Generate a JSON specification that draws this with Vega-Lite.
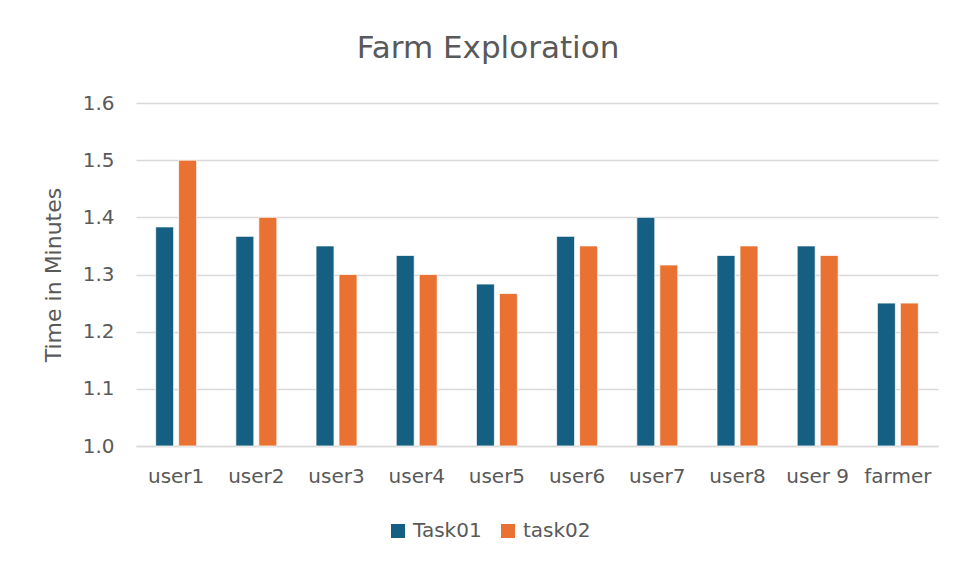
{
  "$schema": "https://vega.github.io/schema/vega-lite/v6.json",
  "autosize": {"type": "none"},
  "padding": {"left": 136, "top": 103, "right": 17, "bottom": 116},
  "width": 802,
  "height": 343,
  "background": "#ffffff",
  "title": {
    "text": "Farm Exploration",
    "font": "DejaVu Sans",
    "fontSize": 31,
    "fontWeight": "normal",
    "color": "#595959",
    "anchor": "middle",
    "baseline": "alphabetic",
    "dx": -49,
    "offset": 4
  },
  "data": {
    "values": [
      {"user": "user1", "task": "Task01", "minutes": 1.3833},
      {"user": "user1", "task": "task02", "minutes": 1.5},
      {"user": "user2", "task": "Task01", "minutes": 1.3667},
      {"user": "user2", "task": "task02", "minutes": 1.4},
      {"user": "user3", "task": "Task01", "minutes": 1.35},
      {"user": "user3", "task": "task02", "minutes": 1.3},
      {"user": "user4", "task": "Task01", "minutes": 1.3333},
      {"user": "user4", "task": "task02", "minutes": 1.3},
      {"user": "user5", "task": "Task01", "minutes": 1.2833},
      {"user": "user5", "task": "task02", "minutes": 1.2667},
      {"user": "user6", "task": "Task01", "minutes": 1.3667},
      {"user": "user6", "task": "task02", "minutes": 1.35},
      {"user": "user7", "task": "Task01", "minutes": 1.4},
      {"user": "user7", "task": "task02", "minutes": 1.3167},
      {"user": "user8", "task": "Task01", "minutes": 1.3333},
      {"user": "user8", "task": "task02", "minutes": 1.35},
      {"user": "user 9", "task": "Task01", "minutes": 1.35},
      {"user": "user 9", "task": "task02", "minutes": 1.3333},
      {"user": "farmer", "task": "Task01", "minutes": 1.25},
      {"user": "farmer", "task": "task02", "minutes": 1.25}
    ]
  },
  "mark": {"type": "bar", "stroke": "#ffffff", "strokeWidth": 0.75},
  "encoding": {
    "x": {
      "field": "user",
      "type": "nominal",
      "sort": ["user1", "user2", "user3", "user4", "user5", "user6", "user7", "user8", "user 9", "farmer"],
      "scale": {"paddingInner": 0.489, "paddingOuter": 0.245},
      "axis": {
        "title": null,
        "labelAngle": 0,
        "ticks": false,
        "grid": false,
        "domain": true,
        "domainColor": "#d9d9d9",
        "domainWidth": 1.5,
        "labelPadding": 20
      }
    },
    "xOffset": {
      "field": "task",
      "type": "nominal",
      "scale": {"domain": ["Task01", "task02"], "paddingInner": 0.217, "paddingOuter": 0}
    },
    "y": {
      "field": "minutes",
      "type": "quantitative",
      "scale": {"domain": [1.0, 1.6], "zero": false, "nice": false},
      "axis": {
        "title": "Time in Minutes",
        "values": [1.0, 1.1, 1.2, 1.3, 1.4, 1.5, 1.6],
        "format": ".1f",
        "domain": false,
        "ticks": false,
        "grid": true,
        "gridColor": "#d9d9d9",
        "gridWidth": 1.5,
        "labelPadding": 22,
        "titlePadding": 17,
        "titleFontSize": 22
      }
    },
    "y2": {"datum": 1.0},
    "color": {
      "field": "task",
      "type": "nominal",
      "scale": {"domain": ["Task01", "task02"], "range": ["#156082", "#E97132"]},
      "legend": {
        "title": null,
        "orient": "none",
        "direction": "horizontal",
        "legendX": 252,
        "legendY": 418,
        "padding": 0,
        "symbolType": "square",
        "symbolSize": 196,
        "symbolStrokeWidth": 0,
        "symbolOpacity": 1,
        "labelOffset": 5,
        "columnPadding": 16,
        "labelFontSize": 20
      }
    }
  },
  "config": {
    "view": {"stroke": null},
    "font": "DejaVu Sans",
    "axis": {
      "labelFont": "DejaVu Sans",
      "labelFontSize": 20,
      "labelColor": "#595959",
      "titleFont": "DejaVu Sans",
      "titleColor": "#595959",
      "titleFontWeight": "normal"
    },
    "legend": {
      "labelFont": "DejaVu Sans",
      "labelColor": "#595959"
    }
  }
}
